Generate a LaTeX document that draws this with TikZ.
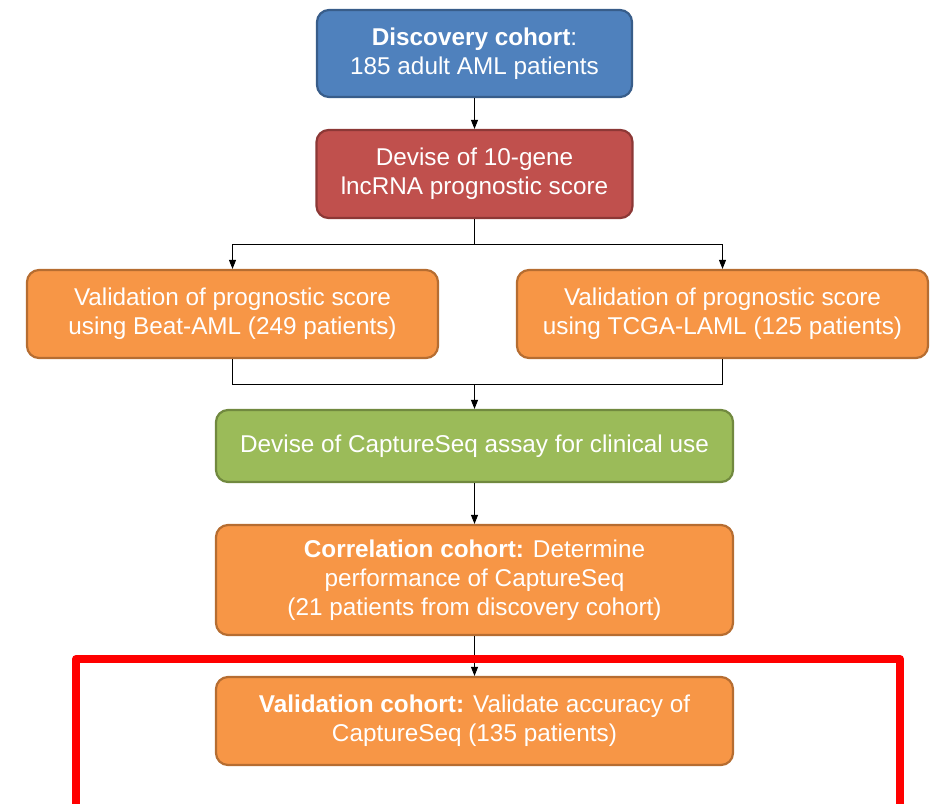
\documentclass[tikz,border=0pt]{standalone}
\usepackage{fontspec}
\setmainfont{Liberation Sans}
\usetikzlibrary{arrows.meta}
\definecolor{bluefill}{HTML}{4F81BD}\definecolor{blueline}{HTML}{385D8A}
\definecolor{redfill}{HTML}{C0504D}\definecolor{redline}{HTML}{8C3836}
\definecolor{orangefill}{HTML}{F79646}\definecolor{orangeline}{HTML}{B66D31}
\definecolor{greenfill}{HTML}{9BBB59}\definecolor{greenline}{HTML}{71893F}
\definecolor{hilite}{HTML}{FF0000}
\begin{document}
\begin{tikzpicture}[x=1pt,y=-1pt,
  box/.style={rectangle, rounded corners=12pt, line width=2.2pt, align=center,
    text=white, inner sep=0pt, font=\fontsize{24.3}{29}\selectfont},
  bluebox/.style={box, fill=bluefill, draw=blueline},
  redbox/.style={box, fill=redfill, draw=redline},
  orangebox/.style={box, fill=orangefill, draw=orangeline},
  greenbox/.style={box, fill=greenfill, draw=greenline},
  link/.style={line width=0.9pt, black},
  arr/.style={link, -{Triangle[length=9pt,width=7pt]}}]
\useasboundingbox (0,0) rectangle (933,803);
\clip (0,0) rectangle (933,803);

% flow boxes
\node[bluebox, minimum width=315pt, minimum height=87pt] (disc) at (474.5,53.5)
  {\textbf{Discovery cohort}:\\185 adult AML patients};
\node[redbox, minimum width=316pt, minimum height=88pt] (score) at (474.5,174)
  {Devise of 10-gene\\lncRNA prognostic score};
\node[orangebox, minimum width=411pt, minimum height=88pt] (beat) at (232.5,314)
  {Validation of prognostic score\\using Beat-AML (249 patients)};
\node[orangebox, minimum width=411pt, minimum height=88pt] (tcga) at (722.5,314)
  {Validation of prognostic score\\using TCGA-LAML (125 patients)};
\node[greenbox, minimum width=517pt, minimum height=72pt] (assay) at (474.5,446)
  {Devise of CaptureSeq assay for clinical use};
\node[orangebox, minimum width=517pt, minimum height=110pt] (corr) at (474.5,580)
  {\textbf{Correlation cohort:} Determine\\performance of CaptureSeq\\(21 patients from discovery cohort)};
\node[orangebox, minimum width=517pt, minimum height=88pt] (valid) at (474.5,721)
  {\textbf{Validation cohort:} Validate accuracy of\\CaptureSeq (135 patients)};

% connectors
\coordinate (split) at (474.5,244);
\coordinate (merge) at (474.5,384);
\draw[arr] (disc.south) -- (score.north);
\draw[link] (score.south) -- (split);
\draw[arr] (split) -| (beat.north);
\draw[arr] (split) -| (tcga.north);
\draw[link] (beat.south) -- (beat.south |- merge) -- (tcga.south |- merge) -- (tcga.south);
\draw[arr] (merge) -- (assay.north);
\draw[arr] (assay.south) -- (corr.north);
\draw[arr] (corr.south) -- (valid.north);

% highlight frame around the validation step
\draw[hilite, line width=8pt, line join=round] (76,812) -- (76,659) -- (900,659) -- (900,812);
\end{tikzpicture}
\end{document}
